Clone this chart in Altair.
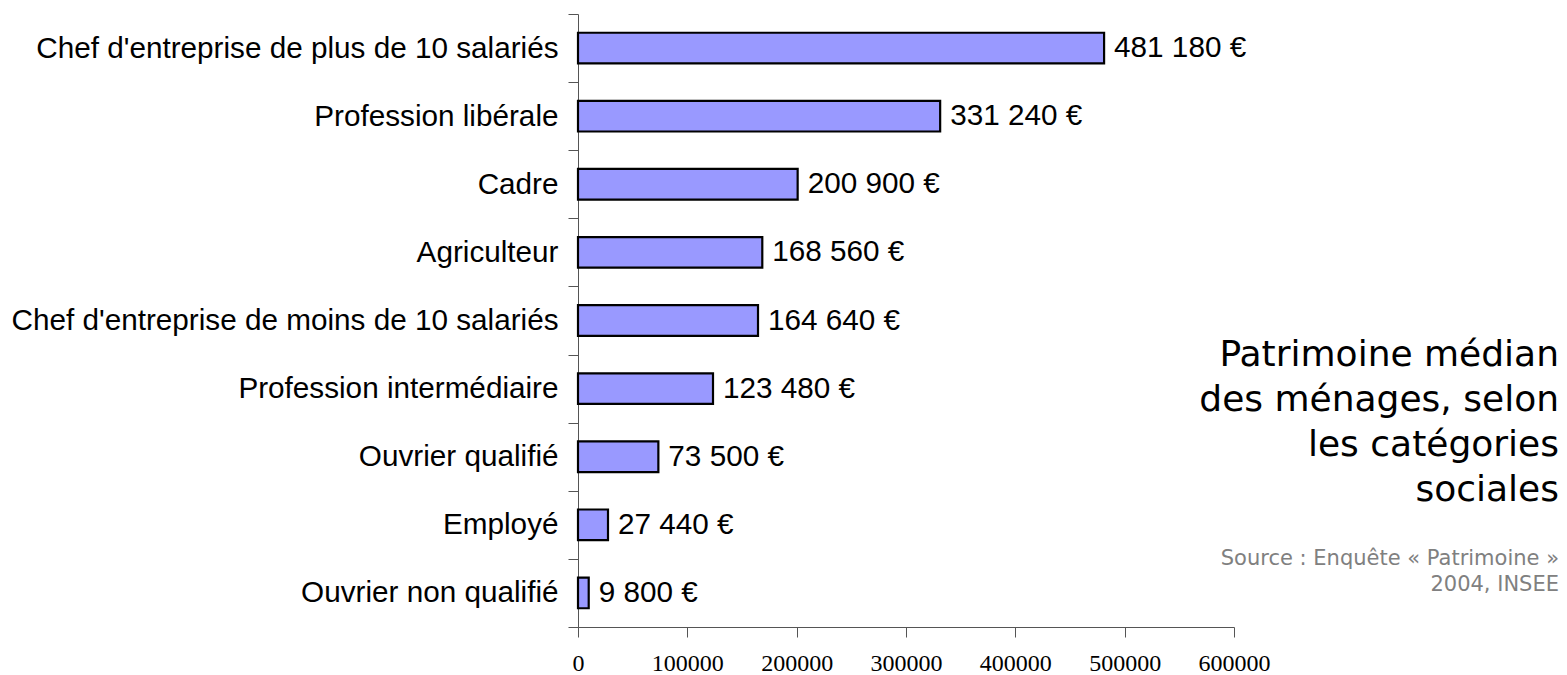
import altair as alt
import pandas as pd

categories = [
    "Chef d'entreprise de plus de 10 salariés",
    "Profession libérale",
    "Cadre",
    "Agriculteur",
    "Chef d'entreprise de moins de 10 salariés",
    "Profession intermédiaire",
    "Ouvrier qualifié",
    "Employé",
    "Ouvrier non qualifié",
]
values = [481180, 331240, 200900, 168560, 164640, 123480, 73500, 27440, 9800]
x_ticks = [0, 100000, 200000, 300000, 400000, 500000, 600000]

title_lines = ["Patrimoine médian", "des ménages, selon", "les catégories", "sociales"]
source_lines = ["Source : Enquête « Patrimoine »", "2004, INSEE"]

df = pd.DataFrame({"cat": categories, "value": values})

W, H = 656, 613
LABEL_FONT = "Liberation Sans"
AXIS_COLOR = "#555555"

y_enc = alt.Y(
    "cat:N",
    sort=categories,
    scale=alt.Scale(paddingInner=0, paddingOuter=0),
    axis=alt.Axis(
        title=None,
        labelFont=LABEL_FONT,
        labelFontSize=29.7,
        labelColor="black",
        labelPadding=10,
        labelLimit=0,
        tickSize=10,
        tickBand="extent",
        tickColor=AXIS_COLOR,
        domainColor=AXIS_COLOR,
        grid=False,
    ),
)
x_enc = alt.X(
    "value:Q",
    scale=alt.Scale(domain=[0, 600000], nice=False),
    axis=alt.Axis(
        title=None,
        values=x_ticks,
        format="d",
        labelFont="Liberation Serif",
        labelFontSize=24,
        labelColor="black",
        labelPadding=14,
        labelOverlap=False,
        labelFlush=False,
        tickSize=10,
        tickColor=AXIS_COLOR,
        domainColor=AXIS_COLOR,
        grid=False,
    ),
)

bars = alt.Chart(df).mark_bar(
    color="#9999FF", stroke="black", strokeWidth=2.2,
    height=alt.RelativeBandSize(0.45),
).encode(x=x_enc, y=y_enc)

labels = alt.Chart(df).transform_calculate(
    lab="replace(format(datum.value, ','), ',', ' ') + ' €'"
).mark_text(
    align="left", baseline="middle", dx=10, font=LABEL_FONT, fontSize=29.7, color="black"
).encode(x="value:Q", y=alt.Y("cat:N", sort=categories), text="lab:N")

title_txt = alt.Chart(df.head(1)).mark_text(
    text=title_lines, align="right", baseline="alphabetic", lineHeight=45,
    font="DejaVu Sans", fontSize=36, color="black"
).encode(x=alt.value(981), y=alt.value(352))

source_txt = alt.Chart(df.head(1)).mark_text(
    text=source_lines, align="right", baseline="alphabetic", lineHeight=26,
    font="DejaVu Sans", fontSize=21, color="#808080"
).encode(x=alt.value(981), y=alt.value(551))

chart = alt.layer(bars, labels, title_txt, source_txt).properties(
    width=W,
    height=H,
    autosize=alt.AutoSizeParams(type="none"),
    padding={"left": 570, "top": 6, "right": 325, "bottom": 48},
    background="white",
).configure_view(stroke=None)

chart.save("out.html", embed_options={"renderer": "svg", "actions": False})
